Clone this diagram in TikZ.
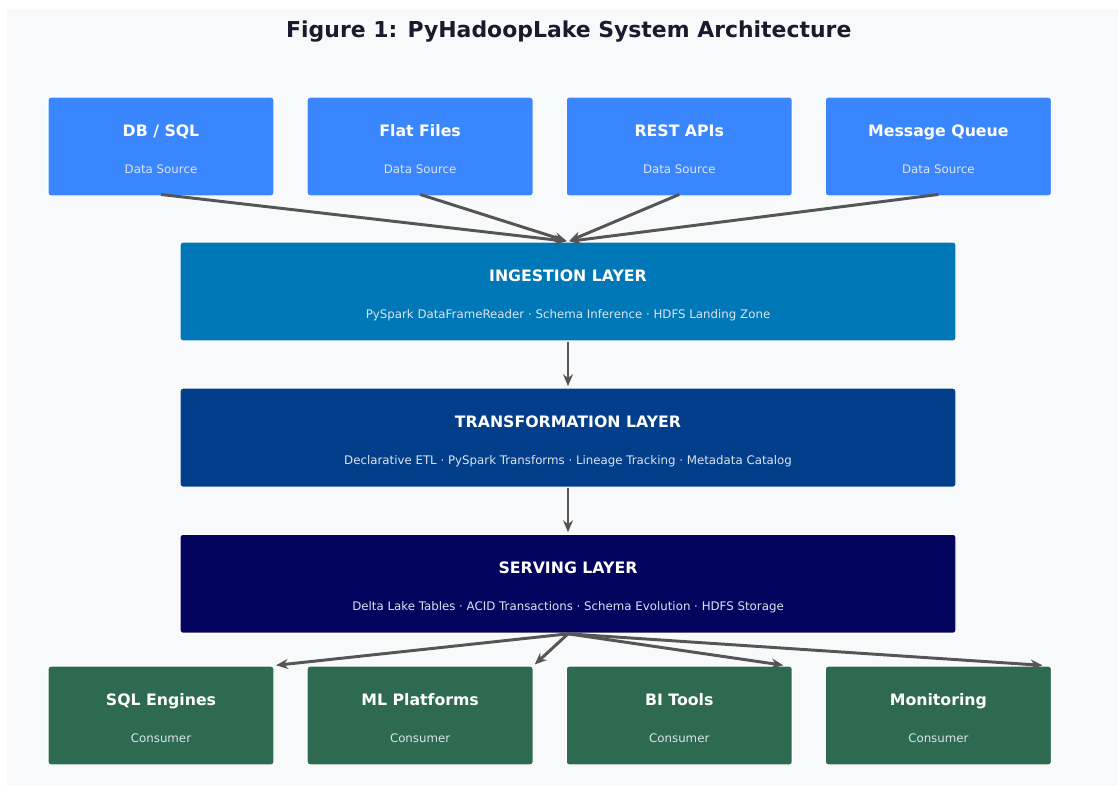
\documentclass[tikz,border=0pt]{standalone}
\usepackage{fontspec}
\setmainfont{DejaVu Sans}
\usepackage{tikz}
\usetikzlibrary{arrows.meta, positioning, calc}
\usepackage{xcolor}
\definecolor{srcblue}{HTML}{3A86FF}
\definecolor{ingblue}{HTML}{0077B6}
\definecolor{trfblue}{HTML}{023E8A}
\definecolor{srvnavy}{HTML}{03045E}
\definecolor{consgreen}{HTML}{2D6A4F}
\definecolor{panelgray}{HTML}{F8F9FA}
\definecolor{arrowgray}{HTML}{555555}
\definecolor{titleink}{HTML}{1A1A2E}
\definecolor{subink}{HTML}{DCE4EE}
\newcommand{\boxhead}[1]{{\fontsize{11.2}{13}\bfseries\selectfont\rule{0pt}{15pt}#1}}
\newcommand{\boxsub}[1]{{\fontsize{8.4}{10}\selectfont\color{subink}\rule[-3pt]{0pt}{3pt}#1}}
\tikzset{
  srcbox/.style={
    rectangle, rounded corners=2pt, draw=white, line width=0.8pt, fill=#1,
    minimum width=5.65cm, minimum height=2.475cm, inner sep=0pt,
    align=center, text=white
  },
  layerbox/.style={
    rectangle, rounded corners=2pt, draw=white, line width=0.8pt, fill=#1,
    minimum width=19.4cm, minimum height=2.475cm, inner sep=0pt,
    align=center, text=white
  },
  flow/.style={-{Stealth[length=8.5pt, width=7pt]}, line width=2.1pt,
    draw=arrowgray, shorten >=1pt}
}

\begin{document}
\begin{tikzpicture}
    \useasboundingbox (0,0) rectangle (27.95,-19.675);
    \fill[white] (0,0) rectangle (27.95,-19.675);
    \fill[panelgray] (0.175,-0.225) rectangle (27.95,-19.65);

    % Title
    \node[font=\fontsize{15.6}{18}\bfseries\selectfont, text=titleink]
      (title) at (14.22,-0.78) {Figure 1: PyHadoopLake System Architecture};

    % Data sources
    \node[srcbox=srcblue] (db) at (4.025,-3.6625)
      {\boxhead{DB / SQL}\\[14pt]\boxsub{Data Source}};
    \node[srcbox=srcblue, right=0.8cm of db] (flat)
      {\boxhead{Flat Files}\\[14pt]\boxsub{Data Source}};
    \node[srcbox=srcblue, right=0.8cm of flat] (rest)
      {\boxhead{REST APIs}\\[14pt]\boxsub{Data Source}};
    \node[srcbox=srcblue, right=0.8cm of rest] (queue)
      {\boxhead{Message Queue}\\[14pt]\boxsub{Data Source}};

    % Layers
    \node[layerbox=ingblue] (ing) at (14.2,-7.2875)
      {\boxhead{INGESTION LAYER}\\[14pt]%
       \boxsub{PySpark DataFrameReader · Schema Inference · HDFS Landing Zone}};
    \node[layerbox=trfblue, below=1.15cm of ing] (trf)
      {\boxhead{TRANSFORMATION LAYER}\\[14pt]%
       \boxsub{Declarative ETL · PySpark Transforms · Lineage Tracking · Metadata Catalog}};
    \node[layerbox=srvnavy, below=1.15cm of trf] (srv)
      {\boxhead{SERVING LAYER}\\[14pt]%
       \boxsub{Delta Lake Tables · ACID Transactions · Schema Evolution · HDFS Storage}};

    % Consumers
    \node[srcbox=consgreen] (sqleng) at (4.025,-17.8875)
      {\boxhead{SQL Engines}\\[14pt]\boxsub{Consumer}};
    \node[srcbox=consgreen, right=0.8cm of sqleng] (mlplat)
      {\boxhead{ML Platforms}\\[14pt]\boxsub{Consumer}};
    \node[srcbox=consgreen, right=0.8cm of mlplat] (bitools)
      {\boxhead{BI Tools}\\[14pt]\boxsub{Consumer}};
    \node[srcbox=consgreen, right=0.8cm of bitools] (monit)
      {\boxhead{Monitoring}\\[14pt]\boxsub{Consumer}};

    % Sources into ingestion
    \foreach \s in {db, flat, rest, queue}
      \draw[flow] ([yshift=1.5pt]\s.south) -- (ing.north);

    % Layer to layer
    \draw[flow] (ing) -- (trf);
    \draw[flow] (trf) -- (srv);

    % Serving out to consumers
    \draw[flow] (srv.south) -- (sqleng.north east);
    \draw[flow] (srv.south) -- (mlplat.north east);
    \draw[flow] (srv.south) -- ([xshift=-0.2cm]bitools.north east);
    \draw[flow] (srv.south) -- ([xshift=-0.2cm]monit.north east);
  \end{tikzpicture}
\end{document}
